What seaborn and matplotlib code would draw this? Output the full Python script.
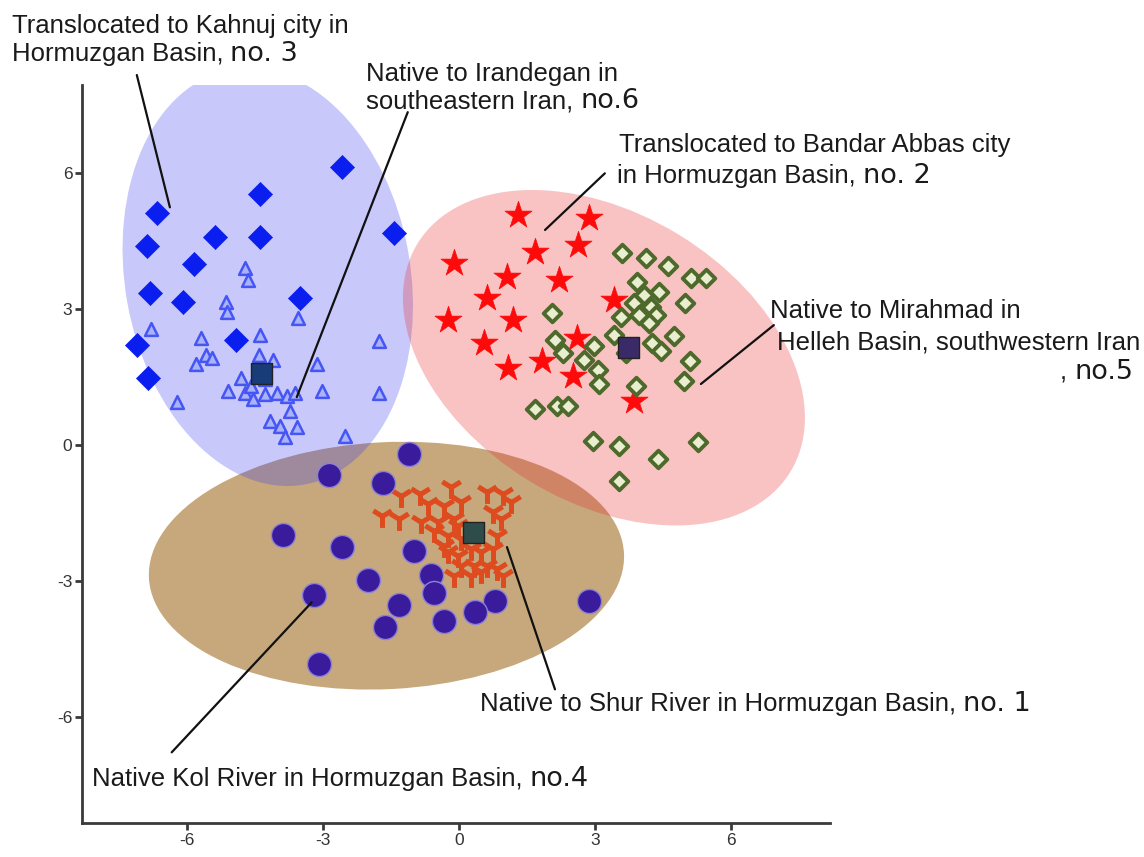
import matplotlib
matplotlib.use("Agg")
import matplotlib.pyplot as plt
from matplotlib.patches import Ellipse
import pandas as pd
import seaborn as sns

# -------------------------
# 1. Data
# -------------------------
# no. 3 - Kahnuj city (blue diamonds)
no3_x = [-6.66, -6.88, -5.39, -4.39, -4.39, -2.58, -1.44, -5.84, -6.81, -6.08, -3.51, -4.92, -7.11, -6.86]
no3_y = [5.12, 4.40, 4.59, 4.59, 5.54, 6.13, 4.68, 4.00, 3.36, 3.16, 3.25, 2.33, 2.20, 1.49]

# no. 6 - Irandegan (blue triangles)
no6_x = [-4.73, -4.65, -5.15, -5.13, -3.55, -6.80, -5.70, -4.39, -1.76, -5.59, -5.81, -5.46,
         -4.41, -4.11, -3.13, -5.09, -4.72, -4.55, -4.28, -4.02, -3.80, -3.62, -3.02, -1.76,
         -6.22, -3.73, -4.17, -3.95, -3.58, -3.84, -2.51, -4.60, -4.28, -4.82]
no6_y = [3.91, 3.65, 3.16, 2.95, 2.81, 2.57, 2.37, 2.44, 2.29, 2.00, 1.80, 1.93,
         2.00, 1.89, 1.80, 1.19, 1.16, 1.01, 1.12, 1.16, 1.08, 1.16, 1.19, 1.16,
         0.95, 0.75, 0.53, 0.42, 0.40, 0.18, 0.20, 1.30, 1.45, 1.49]

# no. 2 - Bandar Abbas city (red stars)
no2_x = [1.31, 2.86, 1.68, 2.62, -0.11, 1.05, 2.21, 0.63, 3.43, -0.24, 1.20, 0.55, 2.60, 1.09, 1.83, 2.51, 3.86]
no2_y = [5.08, 5.01, 4.26, 4.42, 4.02, 3.71, 3.65, 3.25, 3.21, 2.77, 2.77, 2.26, 2.37, 1.71, 1.85, 1.52, 0.97]

# no. 5 - Mirahmad (green open diamonds)
no5_x = [3.60, 4.13, 4.61, 5.13, 5.46, 3.93, 4.41, 4.08, 3.86, 4.24, 5.00, 3.97, 4.34, 3.58,
         2.05, 4.19, 3.43, 4.74, 4.26, 4.45, 2.12, 2.29, 2.99, 2.77, 5.11, 3.06, 3.10, 4.96,
         3.91, 1.68, 2.16, 2.40, 2.95, 3.54, 4.39, 5.28, 3.54, 3.69]
no5_y = [4.24, 4.13, 3.96, 3.69, 3.69, 3.60, 3.38, 3.32, 3.14, 3.05, 3.14, 2.88, 2.88, 2.84,
         2.92, 2.70, 2.44, 2.40, 2.26, 2.07, 2.33, 2.04, 2.18, 1.89, 1.85, 1.67, 1.34, 1.41,
         1.30, 0.79, 0.86, 0.86, 0.09, -0.02, -0.31, 0.07, -0.79, 2.04]

# no. 1 - Shur River (orange tri markers)
no1_x = [-1.70, -1.33, -1.27, -0.87, -0.68, -0.83, -0.17, -0.33, 0.04, 0.63, 0.98, 1.14,
         0.76, 0.92, -0.46, -0.11, -0.24, 0.04, -0.24, -0.02, 0.26, 0.48, 0.76, 0.04,
         0.33, 0.63, 0.85, 0.98, -0.11, 0.26, 0.48, 0.26, -0.02, -0.33, 0.85, -0.55]
no1_y = [-1.56, -1.63, -1.12, -1.08, -1.30, -1.69, -0.92, -1.34, -1.25, -1.03, -1.08, -1.25,
         -1.47, -1.63, -1.69, -1.63, -2.00, -2.07, -2.35, -2.44, -2.29, -2.35, -2.29, -2.66,
         -2.66, -2.66, -2.73, -2.88, -2.88, -2.88, -2.79, -1.85, -1.78, -2.22, -2.00, -1.89]

# no. 4 - Kol River (purple circles)
no4_x = [-1.11, -2.86, -1.68, -3.89, -2.58, -1.00, -2.01, -0.61, -0.55, -3.19, -1.33, 0.79, 0.35, -0.33, -1.64, 2.86, -3.08]
no4_y = [-0.20, -0.66, -0.84, -1.98, -2.24, -2.33, -2.97, -2.86, -3.27, -3.30, -3.52, -3.45, -3.69, -3.89, -4.02, -3.43, -4.84]

# group centroids (dark squares)
cent_x = [-4.35, 3.75, 0.33]
cent_y = [1.59, 2.16, -1.92]

# -------------------------
# 2. Long table for seaborn
# -------------------------
series = {"no1": (no1_x, no1_y), "no2": (no2_x, no2_y), "no3": (no3_x, no3_y),
          "no4": (no4_x, no4_y), "no5": (no5_x, no5_y), "no6": (no6_x, no6_y)}
df = pd.concat([pd.DataFrame({"x": xs, "y": ys, "group": g}) for g, (xs, ys) in series.items()],
               ignore_index=True)
cent = pd.DataFrame({"x": cent_x, "y": cent_y, "group": ["blue", "red", "brown"]})

# -------------------------
# 3. Figure
# -------------------------
sns.set_style("ticks")
plt.rcParams["font.family"] = ["Liberation Sans", "DejaVu Sans"]
plt.rcParams["axes.unicode_minus"] = False

fig = plt.figure(figsize=(11.44, 8.57), dpi=100)
ax = fig.add_axes([82 / 1144, 1 - 823 / 857, (830 - 82) / 1144, (823 - 85) / 857])

# confidence ellipses
ax.add_patch(Ellipse((-1.60, -2.66), 10.5, 5.45, angle=3, facecolor="#c6a87c", edgecolor="none", zorder=1))
ax.add_patch(Ellipse((-4.22, 3.71), 6.3, 9.3, angle=10, facecolor="#3c3cf0", alpha=0.28, edgecolor="none", zorder=2))
ax.add_patch(Ellipse((3.20, 1.93), 9.65, 6.36, angle=-31.5, facecolor="#eb282d", alpha=0.28, edgecolor="none", zorder=2))

# points
styles = [
    ("no6", dict(marker="^", s=85, color="#aab2f8", edgecolor="#4656f5", linewidth=1.8)),
    ("no3", dict(marker="D", s=150, color="#0a1ef0", edgecolor="#0a1ef0", linewidth=0.5)),
    ("no2", dict(marker="*", s=420, color="#ff0a0a", edgecolor="#ff0a0a", linewidth=0.5)),
    ("no5", dict(marker="D", s=80, color="#e9eed0", edgecolor="#4d6a2c", linewidth=2.8)),
    ("no1", dict(marker="1", s=270, color="#dd4b1f", linewidth=3.6)),
    ("no4", dict(marker="o", s=300, color="#3a1b9c", edgecolor="#8c82d8", linewidth=1.0)),
]
for z, (g, kw) in enumerate(styles):
    sns.scatterplot(data=df[df["group"] == g], x="x", y="y", ax=ax, legend=False, zorder=3 + z, **kw)

sns.scatterplot(data=cent, x="x", y="y", hue="group", ax=ax, legend=False, marker="s", s=230,
                palette={"blue": "#173c78", "red": "#3a2a68", "brown": "#2e4d4a"},
                edgecolor="#222222", linewidth=1.0, zorder=10)

# -------------------------
# 4. Axes styling
# -------------------------
ax.set_xlim(-8.32, 8.19)
ax.set_ylim(-8.34, 7.95)
ax.set_xticks([-6, -3, 0, 3, 6])
ax.set_yticks([-6, -3, 0, 3, 6])
ax.set_xlabel("")
ax.set_ylabel("")
sns.despine(ax=ax)
for side in ["left", "bottom"]:
    ax.spines[side].set_linewidth(2)
    ax.spines[side].set_color("#3a3a3a")
ax.tick_params(direction="out", length=5, width=2, color="#3a3a3a", labelsize=12.5,
               labelcolor="#333333", pad=2)

# -------------------------
# 5. Annotations
# -------------------------
FS = 18.5


def label(x, y, head, tag=""):
    t = ax.text(x, y, head, fontsize=FS, family="Liberation Sans", va="baseline",
                color="#1a1a1a", clip_on=False)
    if tag:
        ax.annotate(tag, xy=(1, y), xycoords=(t, "data"), xytext=(5, 0), textcoords="offset points",
                    fontsize=FS + 1, family="DejaVu Sans", va="baseline", color="#1a1a1a",
                    annotation_clip=False)


label(-9.87, 9.09, "Translocated to Kahnuj city in")
label(-9.87, 8.48, "Hormuzgan Basin,", "no. 3")
label(-2.05, 8.04, "Native to Irandegan in")
label(-2.05, 7.44, "southeastern Iran,", "no.6")
label(3.53, 6.47, "Translocated to Bandar Abbas city")
label(3.49, 5.78, "in Hormuzgan Basin,", "no. 2")
label(6.87, 2.80, "Native to Mirahmad in")
label(7.02, 2.12, "Helleh Basin, southwestern Iran")
label(0.46, -5.87, "Native to Shur River in Hormuzgan Basin,", "no. 1")
label(-8.10, -7.53, "Native Kol River in Hormuzgan Basin,", "no.4")

# ", no.5" hangs right-aligned under the Mirahmad label
tag5 = ax.text(14.88, 1.46, "no.5", fontsize=FS + 1, family="DejaVu Sans", ha="right",
               va="baseline", color="#1a1a1a", clip_on=False)
ax.annotate(",", xy=(0, 1.46), xycoords=(tag5, "data"), xytext=(-5, 0), textcoords="offset points",
            fontsize=FS, family="Liberation Sans", ha="right", va="baseline", color="#1a1a1a",
            annotation_clip=False)

leaders = [
    ((-7.11, 8.17), (-6.38, 5.25)),
    ((-1.13, 7.35), (-3.58, 1.06)),
    ((3.22, 6.00), (1.90, 4.75)),
    ((6.95, 2.65), (5.34, 1.35)),
    ((1.06, -2.25), (2.12, -5.39)),
    ((-3.25, -3.47), (-6.34, -6.78)),
]
for a, b in leaders:
    ax.annotate("", xy=a, xytext=b, arrowprops=dict(arrowstyle="-", lw=1.6, color="#111111",
                shrinkA=0, shrinkB=0), annotation_clip=False, zorder=11)

fig.savefig("out.png", dpi=100)
plt.close(fig)
